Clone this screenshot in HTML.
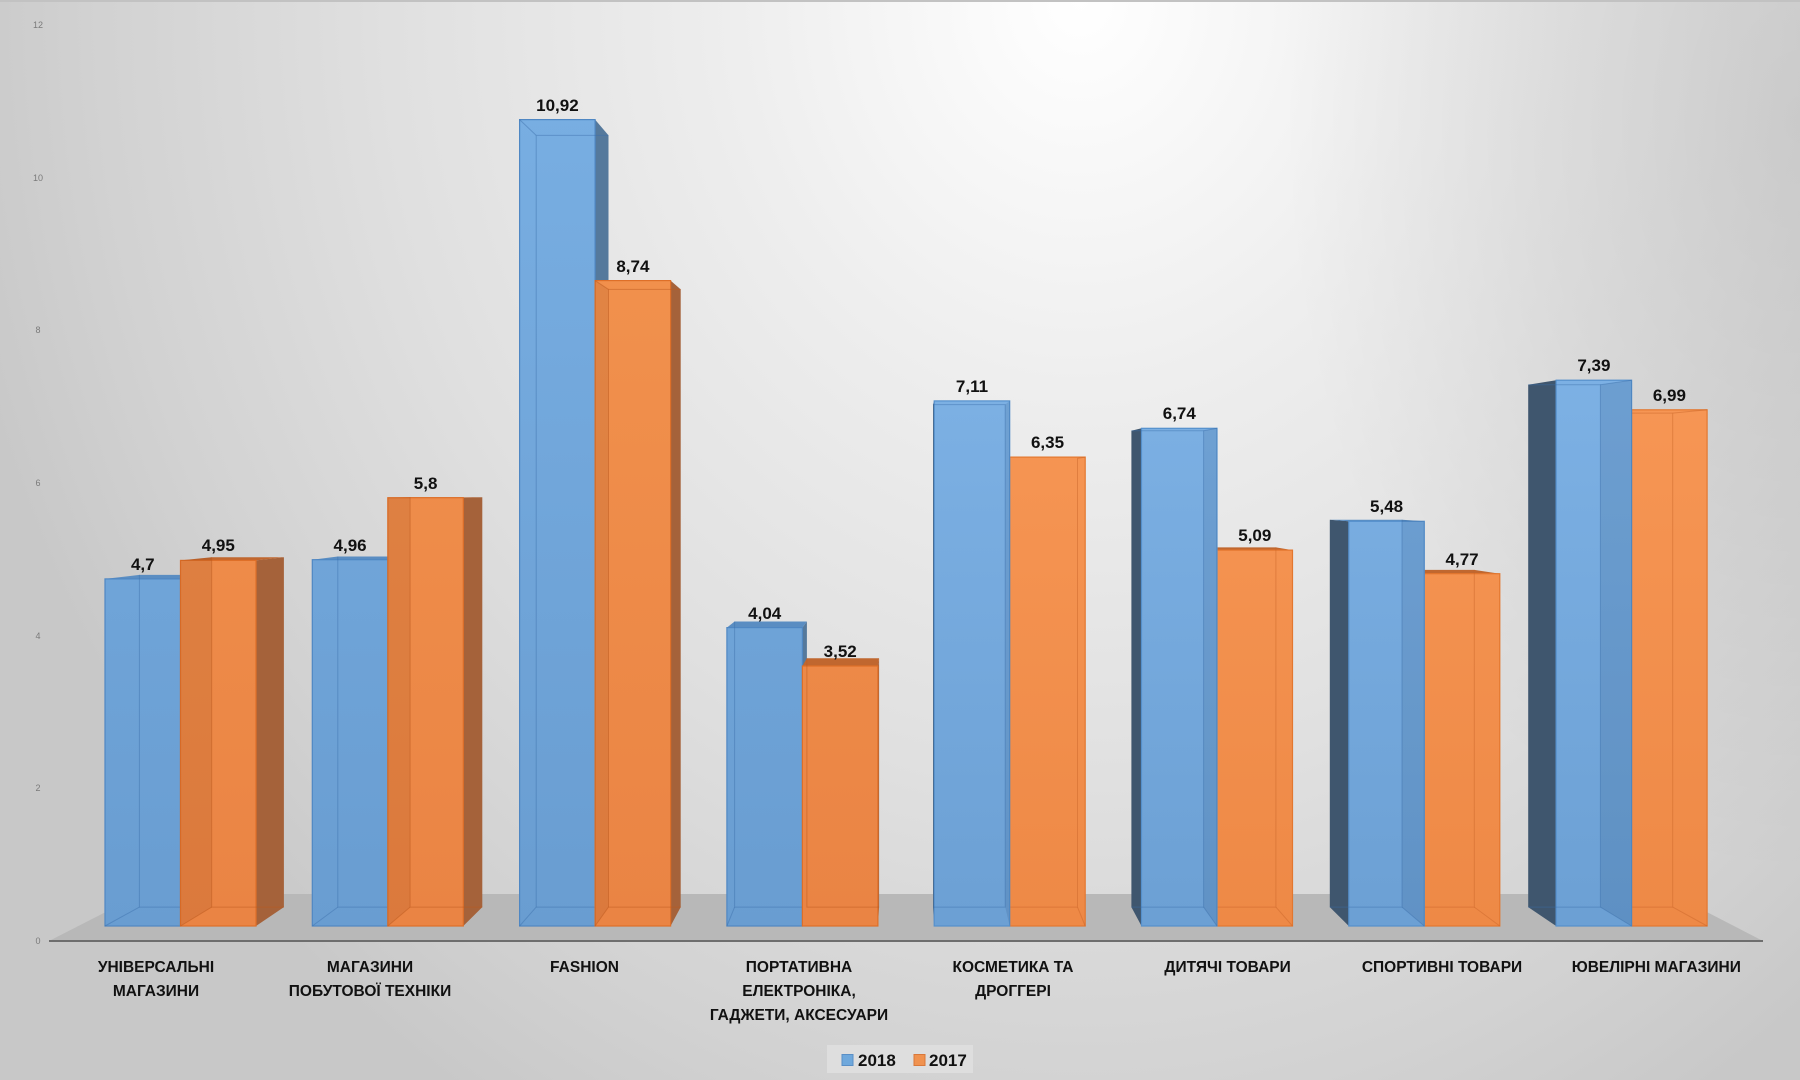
<!DOCTYPE html>
<html><head><meta charset="utf-8">
<style>
html,body{margin:0;padding:0;width:1800px;height:1080px;overflow:hidden;}
body{background:#d0d0d0;}
.bg{position:absolute;left:0;top:0;width:1800px;height:1080px;
background:
radial-gradient(ellipse 520px 760px at 1800px 120px, rgba(0,0,0,0.09) 0%, rgba(0,0,0,0.05) 50%, rgba(0,0,0,0) 100%),
radial-gradient(ellipse 1150px 1300px at 1080px 0px, #ffffff 0%, #eeeeee 30%, #e0e0e0 60%, #d2d2d2 85%, #c8c8c8 100%);}
svg{position:absolute;left:0;top:0;}
</style></head><body>
<div class="bg"></div>
<svg width="1800" height="1080" viewBox="0 0 1800 1080" xmlns="http://www.w3.org/2000/svg">
<defs>
<linearGradient id="bL" gradientUnits="userSpaceOnUse" x1="0" y1="100" x2="0" y2="926"><stop offset="0" stop-color="#78aee2"/><stop offset="1" stop-color="#699dd1"/></linearGradient>
<linearGradient id="bR" gradientUnits="userSpaceOnUse" x1="0" y1="100" x2="0" y2="926"><stop offset="0" stop-color="#85b9ec"/><stop offset="1" stop-color="#6ca0d4"/></linearGradient>
<linearGradient id="oL" gradientUnits="userSpaceOnUse" x1="0" y1="100" x2="0" y2="926"><stop offset="0" stop-color="#f3944f"/><stop offset="1" stop-color="#ea8444"/></linearGradient>
<linearGradient id="oR" gradientUnits="userSpaceOnUse" x1="0" y1="100" x2="0" y2="926"><stop offset="0" stop-color="#fb9d5c"/><stop offset="1" stop-color="#ee8946"/></linearGradient>
</defs>

<!-- border -->
<line x1="0" y1="1" x2="1800" y2="1" stroke="#c2c2c2" stroke-width="2"/>

<!-- floor -->
<polygon points="141,894 1672,894 1763,941 49,941" fill="#b8b8b8"/>
<line x1="49" y1="941" x2="1763" y2="941" stroke="#6e6e6e" stroke-width="2"/>

<!-- y tick labels -->
<g font-family="Liberation Sans, sans-serif" font-size="9" fill="#7a7a7a" text-anchor="middle">
<text x="38" y="944">0</text>
<text x="38" y="791">2</text>
<text x="38" y="639">4</text>
<text x="38" y="486">6</text>
<text x="38" y="333">8</text>
<text x="38" y="181">10</text>
<text x="38" y="28">12</text>
</g>

<!-- ===== Group 0 ===== -->
<g>
<polygon points="105,578.9 180.5,578.9 211.7,574.9 139.4,574.9" fill="#5a8dc2"/>
<rect x="105" y="578.9" width="75.5" height="347.1" fill="url(#bL)" stroke="#4f87c3" stroke-width="1.2"/>
<g fill="none" stroke="rgba(60,110,170,0.45)" stroke-width="1"><polyline points="139.4,574.9 139.4,907.1 211.7,907.1"/><line x1="105" y1="926" x2="139.4" y2="907.1"/></g>
<polygon points="256,560.4 283.9,557.2 283.9,907.1 256,926" fill="#a5623a"/>
<polygon points="180.5,560.4 256,560.4 283.9,557.2 211.7,557.2" fill="#c0672f"/>
<rect x="180.5" y="560.4" width="75.5" height="365.6" fill="url(#oL)" stroke="#de6f28" stroke-width="1.2"/>
<polygon points="180.5,560.4 211.7,557.2 211.7,907.1 180.5,926" fill="rgba(90,30,0,0.10)"/>
<g fill="none" stroke="rgba(190,90,30,0.5)" stroke-width="1"><polyline points="211.7,557.2 211.7,907.1 283.9,907.1"/><line x1="180.5" y1="926" x2="211.7" y2="907.1"/></g>
</g>

<!-- ===== Group 1 ===== -->
<g>
<polygon points="312.3,559.7 387.8,559.7 410.1,556.5 337.8,556.5" fill="#5a8dc2"/>
<rect x="312.3" y="559.7" width="75.5" height="366.3" fill="url(#bL)" stroke="#4f87c3" stroke-width="1.2"/>
<g fill="none" stroke="rgba(60,110,170,0.45)" stroke-width="1"><polyline points="337.8,556.5 337.8,907.1 410.1,907.1"/><line x1="312.3" y1="926" x2="337.8" y2="907.1"/></g>
<polygon points="463.3,497.7 482.3,497.2 482.3,907.1 463.3,926" fill="#a5623a"/>
<polygon points="387.8,497.7 463.3,497.7 482.3,497.2 410.1,497.2" fill="#c0672f"/>
<rect x="387.8" y="497.7" width="75.5" height="428.3" fill="url(#oL)" stroke="#de6f28" stroke-width="1.2"/>
<polygon points="387.8,497.7 410.1,497.2 410.1,907.1 387.8,926" fill="rgba(90,30,0,0.10)"/>
<g fill="none" stroke="rgba(190,90,30,0.5)" stroke-width="1"><polyline points="410.1,497.2 410.1,907.1 482.3,907.1"/><line x1="387.8" y1="926" x2="410.1" y2="907.1"/></g>
</g>

<!-- ===== Group 2 (Fashion) ===== -->
<g>
<polygon points="595.1,119.6 608.5,135.4 608.5,907.1 595.1,926" fill="#55799c"/>
<rect x="519.6" y="119.6" width="75.5" height="806.4" fill="url(#bL)" stroke="#4f87c3" stroke-width="1.2"/>
<g fill="none" stroke="rgba(60,110,170,0.45)" stroke-width="1"><polyline points="536.2,907.1 536.2,135.4 608.5,135.4"/><line x1="519.6" y1="119.6" x2="536.2" y2="135.4"/><line x1="519.6" y1="926" x2="536.2" y2="907.1"/><line x1="536.2" y1="907.1" x2="608.5" y2="907.1"/></g>
<polygon points="670.6,280.6 680.7,289.4 680.7,907.1 670.6,926" fill="#a5623a"/>
<rect x="595.1" y="280.6" width="75.5" height="645.4" fill="url(#oL)" stroke="#de6f28" stroke-width="1.2"/>
<polygon points="595.1,280.6 608.5,289.4 608.5,907.1 595.1,926" fill="rgba(90,30,0,0.10)"/>
<g fill="none" stroke="rgba(190,90,30,0.5)" stroke-width="1"><polyline points="608.5,907.1 608.5,289.4 680.7,289.4"/><line x1="595.1" y1="280.6" x2="608.5" y2="289.4"/><line x1="608.5" y1="907.1" x2="680.7" y2="907.1"/><line x1="595.1" y1="926" x2="608.5" y2="907.1"/></g>
</g>

<!-- ===== Group 3 ===== -->
<g>
<polygon points="802.4,627.6 806.9,621.5 806.9,907.1 802.4,926" fill="#55799c"/>
<polygon points="726.9,627.6 802.4,627.6 806.9,621.5 734.6,621.5" fill="#5a8dc2"/>
<rect x="726.9" y="627.6" width="75.5" height="298.4" fill="url(#bL)" stroke="#4f87c3" stroke-width="1.2"/>
<g fill="none" stroke="rgba(60,110,170,0.45)" stroke-width="1"><polyline points="734.6,621.5 734.6,907.1 806.9,907.1"/><line x1="726.9" y1="926" x2="734.6" y2="907.1"/></g>
<polygon points="877.9,666 879.1,658.3 879.1,907.1 877.9,926" fill="#a5623a"/>
<polygon points="802.4,666 877.9,666 879.1,658.3 806.9,658.3" fill="#c0672f"/>
<rect x="802.4" y="666" width="75.5" height="260" fill="url(#oL)" stroke="#de6f28" stroke-width="1.2"/>
<g fill="none" stroke="rgba(190,90,30,0.5)" stroke-width="1"><polyline points="806.9,658.3 806.9,907.1 879.1,907.1"/></g>
</g>

<!-- ===== Group 4 ===== -->
<g>
<rect x="1009.7" y="457.1" width="75.5" height="468.9" fill="url(#oR)" stroke="#e3772f" stroke-width="1.2"/>
<g fill="none" stroke="rgba(200,100,40,0.45)" stroke-width="1"><polyline points="1077.5,458.4 1077.5,907.1 1005.2,907.1"/><line x1="1085.2" y1="457.1" x2="1077.5" y2="458.4"/><line x1="1085.2" y1="926" x2="1077.5" y2="907.1"/></g>
<polygon points="933,404.6 934.2,400.9 934.2,926 933,907.1" fill="#3f566e"/>
<rect x="934.2" y="400.9" width="75.5" height="525.1" fill="url(#bR)" stroke="#5590cc" stroke-width="1.2"/>
<polygon points="1009.7,400.9 1005.2,404.6 1005.2,907.1 1009.7,926" fill="rgba(0,30,70,0.10)"/>
<g fill="none" stroke="rgba(60,110,170,0.45)" stroke-width="1"><polyline points="933,907.1 1005.2,907.1 1005.2,404.6 933,404.6"/></g>
</g>

<!-- ===== Group 5 ===== -->
<g>
<polygon points="1217,550.1 1292.5,550.1 1275.9,547.4 1203.6,547.4" fill="#c0672f"/>
<rect x="1217" y="550.1" width="75.5" height="375.9" fill="url(#oR)" stroke="#e3772f" stroke-width="1.2"/>
<g fill="none" stroke="rgba(200,100,40,0.45)" stroke-width="1"><polyline points="1275.9,547.4 1275.9,907.1 1203.6,907.1"/><line x1="1292.5" y1="926" x2="1275.9" y2="907.1"/></g>
<polygon points="1131.4,430.8 1141.5,428.3 1141.5,926 1131.4,907.1" fill="#3f566e"/>
<rect x="1141.5" y="428.3" width="75.5" height="497.7" fill="url(#bR)" stroke="#5590cc" stroke-width="1.2"/>
<polygon points="1217,428.3 1203.6,430.8 1203.6,907.1 1217,926" fill="rgba(0,30,70,0.10)"/>
<g fill="none" stroke="rgba(60,110,170,0.45)" stroke-width="1"><polyline points="1131.4,907.1 1203.6,907.1 1203.6,430.8 1131.4,430.8"/><line x1="1217" y1="926" x2="1203.6" y2="907.1"/><line x1="1217" y1="428.3" x2="1203.6" y2="430.8"/></g>
</g>

<!-- ===== Group 6 ===== -->
<g>
<polygon points="1424.3,573.7 1499.8,573.7 1474.3,569.9 1402,569.9" fill="#c0672f"/>
<rect x="1424.3" y="573.7" width="75.5" height="352.3" fill="url(#oR)" stroke="#e3772f" stroke-width="1.2"/>
<g fill="none" stroke="rgba(200,100,40,0.45)" stroke-width="1"><polyline points="1474.3,569.9 1474.3,907.1 1402,907.1"/><line x1="1499.8" y1="926" x2="1474.3" y2="907.1"/></g>
<polygon points="1329.8,519.8 1348.8,521.3 1348.8,926 1329.8,907.1" fill="#3f566e"/>
<polygon points="1348.8,521.3 1424.3,521.3 1402,519.8 1329.8,519.8" fill="#5a8dc2"/>
<rect x="1348.8" y="521.3" width="75.5" height="404.7" fill="url(#bR)" stroke="#5590cc" stroke-width="1.2"/>
<polygon points="1424.3,521.3 1402,519.8 1402,907.1 1424.3,926" fill="rgba(0,30,70,0.10)"/>
<g fill="none" stroke="rgba(60,110,170,0.45)" stroke-width="1"><polyline points="1329.8,907.1 1402,907.1 1402,519.8"/><line x1="1424.3" y1="926" x2="1402" y2="907.1"/></g>
</g>

<!-- ===== Group 7 ===== -->
<g>
<rect x="1631.6" y="409.8" width="75.5" height="516.2" fill="url(#oR)" stroke="#e3772f" stroke-width="1.2"/>
<g fill="none" stroke="rgba(200,100,40,0.45)" stroke-width="1"><polyline points="1600.4,413.1 1672.7,413.1 1672.7,907.1 1600.4,907.1"/><line x1="1707.1" y1="409.8" x2="1672.7" y2="413.1"/><line x1="1707.1" y1="926" x2="1672.7" y2="907.1"/></g>
<polygon points="1528.2,384.8 1556.1,380.2 1556.1,926 1528.2,907.1" fill="#3f566e"/>
<rect x="1556.1" y="380.2" width="75.5" height="545.8" fill="url(#bR)" stroke="#5590cc" stroke-width="1.2"/>
<polygon points="1631.6,380.2 1600.4,384.8 1600.4,907.1 1631.6,926" fill="rgba(0,30,70,0.12)"/>
<g fill="none" stroke="rgba(60,110,170,0.45)" stroke-width="1"><polyline points="1528.2,907.1 1600.4,907.1 1600.4,384.8 1528.2,384.8"/><line x1="1631.6" y1="380.2" x2="1600.4" y2="384.8"/><line x1="1631.6" y1="926" x2="1600.4" y2="907.1"/></g>
</g>

<!-- value labels -->
<g font-family="Liberation Sans, sans-serif" font-size="17" font-weight="bold" fill="#111" text-anchor="middle">
<text x="142.8" y="570">4,7</text>
<text x="350.1" y="551">4,96</text>
<text x="557.4" y="111">10,92</text>
<text x="764.7" y="619">4,04</text>
<text x="972" y="392">7,11</text>
<text x="1179.3" y="419">6,74</text>
<text x="1386.6" y="512">5,48</text>
<text x="1593.9" y="371">7,39</text>
<text x="218.3" y="551">4,95</text>
<text x="425.6" y="489">5,8</text>
<text x="632.9" y="272">8,74</text>
<text x="840.2" y="657">3,52</text>
<text x="1047.5" y="448">6,35</text>
<text x="1254.8" y="541">5,09</text>
<text x="1462.1" y="565">4,77</text>
<text x="1669.4" y="401">6,99</text>
</g>

<!-- category labels -->
<g font-family="Liberation Sans, sans-serif" font-size="15.5" font-weight="bold" fill="#111" text-anchor="middle">
<text x="156" y="972">УНІВЕРСАЛЬНІ</text>
<text x="156" y="996">МАГАЗИНИ</text>
<text x="370" y="972">МАГАЗИНИ</text>
<text x="370" y="996">ПОБУТОВОЇ ТЕХНІКИ</text>
<text x="584.5" y="972">FASHION</text>
<text x="799" y="972">ПОРТАТИВНА</text>
<text x="799" y="996">ЕЛЕКТРОНІКА,</text>
<text x="799" y="1020">ГАДЖЕТИ, АКСЕСУАРИ</text>
<text x="1013" y="972">КОСМЕТИКА ТА</text>
<text x="1013" y="996">ДРОГГЕРІ</text>
<text x="1227.6" y="972">ДИТЯЧІ ТОВАРИ</text>
<text x="1442" y="972">СПОРТИВНІ ТОВАРИ</text>
<text x="1656.3" y="972">ЮВЕЛІРНІ МАГАЗИНИ</text>
</g>

<!-- legend -->
<rect x="827" y="1045" width="146" height="28" fill="#dedede"/>
<rect x="842" y="1054.5" width="11" height="11" fill="#6fa8dc" stroke="#5a8fc6" stroke-width="1"/>
<text x="858" y="1066" font-family="Liberation Sans, sans-serif" font-size="17" font-weight="bold" fill="#111">2018</text>
<rect x="914" y="1054.5" width="11" height="11" fill="#f0924f" stroke="#d9783a" stroke-width="1"/>
<text x="929" y="1066" font-family="Liberation Sans, sans-serif" font-size="17" font-weight="bold" fill="#111">2017</text>
</svg>
</body></html>
